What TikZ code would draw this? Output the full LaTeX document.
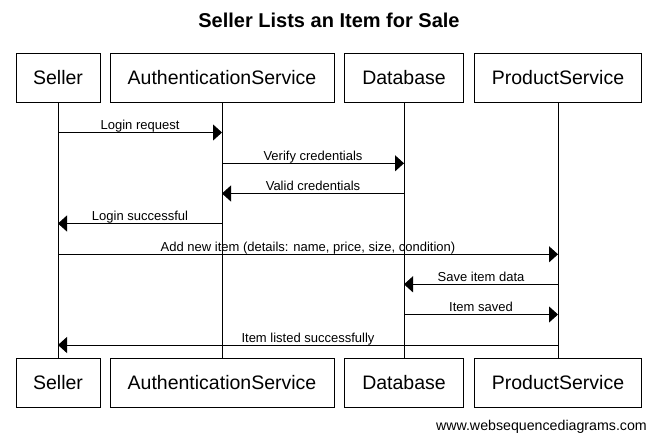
\documentclass[tikz,border=0pt]{standalone}
\usepackage{fontspec}
\setmainfont{Liberation Sans}
\usetikzlibrary{arrows.meta}
\begin{document}
\begin{tikzpicture}[x=1pt,y=-1pt,
  actor/.style={draw,line width=1pt,minimum height=49pt,inner sep=0pt,
    font=\fontsize{19.5}{22}\selectfont},
  msg/.style={line width=1pt,-{Triangle[length=9pt,width=16pt]}},
  lbl/.style={font=\fontsize{13}{15}\selectfont,anchor=base,inner sep=0pt,yshift=3pt},
  life/.style={line width=1pt}]
\useasboundingbox (0,0) rectangle (658,442);
\node[font=\bfseries\fontsize{20}{24}\selectfont,anchor=base] (title) at (329,27) {Seller Lists an Item for Sale};
% top actors
\node[actor,minimum width=84pt]  (sT) at (58,78)  {Seller};
\node[actor,minimum width=224pt] (aT) at (222,78) {AuthenticationService};
\node[actor,minimum width=119pt] (dT) at (404,78) {Database};
\node[actor,minimum width=167pt] (pT) at (558,78) {ProductService};
% bottom actors
\node[actor,minimum width=84pt]  (sB) at (58,383)  {Seller};
\node[actor,minimum width=224pt] (aB) at (222,383) {AuthenticationService};
\node[actor,minimum width=119pt] (dB) at (404,383) {Database};
\node[actor,minimum width=167pt] (pB) at (558,383) {ProductService};
% lifelines
\draw[life] (sT.south) -- (sB.north);
\draw[life] (aT.south) -- (aB.north);
\draw[life] (dT.south) -- (dB.north);
\draw[life] (pT.south) -- (pB.north);
% message end points
\coordinate (m1a) at (sT |- 0,132.5);  \coordinate (m1b) at (aT |- 0,132.5);
\coordinate (m2a) at (aT |- 0,163.3);  \coordinate (m2b) at (dT |- 0,163.3);
\coordinate (m3a) at (dT |- 0,193.5);  \coordinate (m3b) at (aT |- 0,193.5);
\coordinate (m4a) at (aT |- 0,223.5);  \coordinate (m4b) at (sT |- 0,223.5);
\coordinate (m5a) at (sT |- 0,254.3);  \coordinate (m5b) at (pT |- 0,254.3);
\coordinate (m6a) at (pT |- 0,284.3);  \coordinate (m6b) at (dT |- 0,284.3);
\coordinate (m7a) at (dT |- 0,314.5);  \coordinate (m7b) at (pT |- 0,314.5);
\coordinate (m8a) at (pT |- 0,345);    \coordinate (m8b) at (sT |- 0,345);
% messages
\draw[msg] (m1a) -- (m1b) node[midway,lbl] {Login request};
\draw[msg] (m2a) -- (m2b) node[midway,lbl] {Verify credentials};
\draw[msg] (m3a) -- (m3b) node[midway,lbl] {Valid credentials};
\draw[msg] (m4a) -- (m4b) node[midway,lbl] {Login successful};
\draw[msg] (m5a) -- (m5b) node[midway,lbl] {Add new item (details: name, price, size, condition)};
\draw[msg] (m6a) -- (m6b) node[midway,lbl] {Save item data};
\draw[msg] (m7a) -- (m7b) node[midway,lbl] {Item saved};
\draw[msg] (m8a) -- (m8b) node[midway,lbl] {Item listed successfully};
\node[font=\fontsize{14.2}{16}\selectfont,anchor=base east,inner sep=0pt] (web) at (647,430) {www.websequencediagrams.com};
\end{tikzpicture}
\end{document}
